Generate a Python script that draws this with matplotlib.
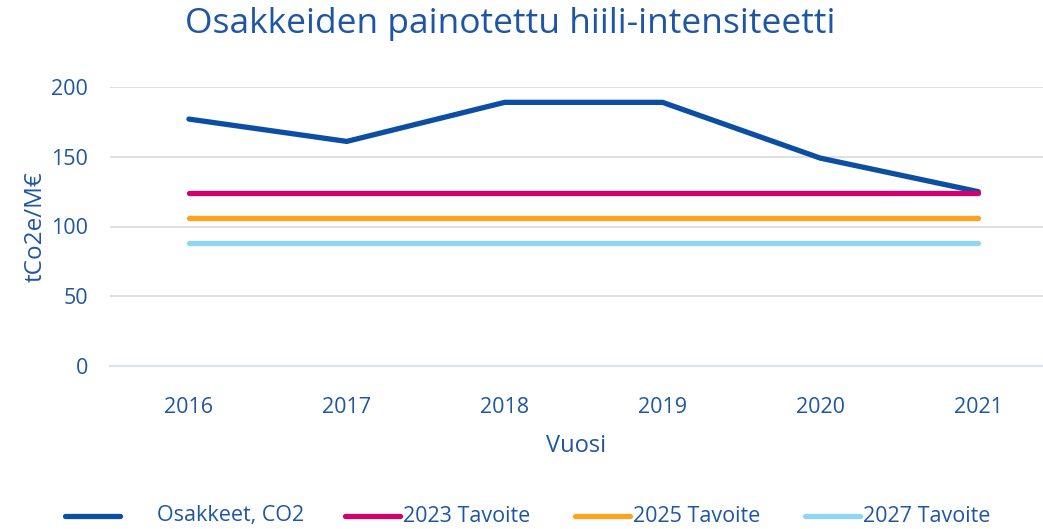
import matplotlib
matplotlib.use("Agg")
import matplotlib.pyplot as plt
from matplotlib.lines import Line2D

years = ["2016", "2017", "2018", "2019", "2020", "2021"]
osakkeet = [177, 161, 189, 189, 149, 125]
tavoite_2023 = [124, 124, 124, 124, 124, 124]
tavoite_2025 = [106, 106, 106, 106, 106, 106]
tavoite_2027 = [88.5, 88.5, 88.5, 88.5, 88.5, 88.5]
series_names = ["Osakkeet, CO2", "2023 Tavoite", "2025 Tavoite", "2027 Tavoite"]
yticks = [0, 50, 100, 150, 200]

plt.rcParams['font.family'] = ['Open Sans', 'DejaVu Sans']
txt = '#1F56A3'
colors = ['#0B4EA2', '#D2006E', '#FFA21F', '#8FD6F2']

W, H = 1043, 529
fig = plt.figure(figsize=(W/100, H/100), dpi=100)
ax = fig.add_axes([110/W, 1-366/H, (W-110)/W, (366-87)/H])
x = list(range(len(years)))
for vals, c, n in zip([osakkeet, tavoite_2023, tavoite_2025, tavoite_2027], colors, series_names):
    ax.plot(x, vals, color=c, lw=3.8, solid_capstyle='round', label=n)

ax.set_xlim(-0.5, 5.41)
ax.set_ylim(0, 200)
ax.set_yticks(yticks)
ax.set_xticks(x)
ax.set_xticklabels(years)
ax.grid(axis='y', color='#D9D9D9', lw=1.2)
ax.set_axisbelow(True)
for s in ['top', 'right', 'left']:
    ax.spines[s].set_visible(False)
ax.spines['bottom'].set_color('#D6E4F5')
ax.spines['bottom'].set_linewidth(1.5)
ax.tick_params(axis='both', length=0, labelsize=15.5, labelcolor=txt)
ax.tick_params(axis='x', pad=22)
ax.tick_params(axis='y', pad=16)
ax.set_xlabel("Vuosi", fontsize=17, color=txt, labelpad=12)
ax.set_ylabel("tCo2e/M€", fontsize=17.5, color=txt, labelpad=2)

fig.text(510/W, 1-24/H, "Osakkeiden painotettu hiili-intensiteetti", ha='center', va='center',
         fontsize=25.5, color=txt)

# legend drawn manually to match spacing
leg_y = 1 - 516/H
line_x = [(65, 120), (345, 400), (575, 630), (805, 860)]
text_x = [157, 403, 633, 863]
for (x0, x1), tx, c, n in zip(line_x, text_x, colors, series_names):
    fig.add_artist(Line2D([x0/W, x1/W], [leg_y, leg_y], transform=fig.transFigure,
                          color=c, lw=3.8, solid_capstyle='round'))
    fig.text(tx/W, leg_y, n, ha='left', va='center', fontsize=15.5, color=txt)

fig.savefig("out.png", dpi=100)
